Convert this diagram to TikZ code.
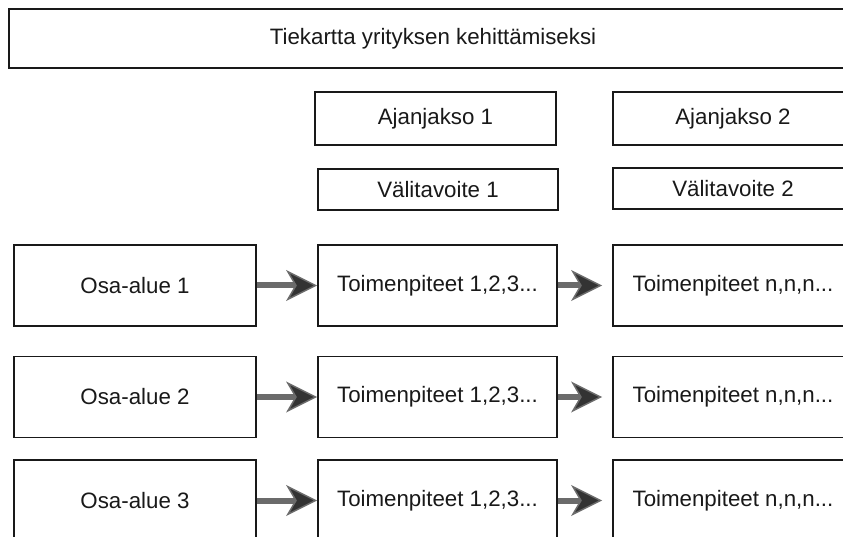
\documentclass[tikz,border=0pt]{standalone}
\usepackage{fontspec}
\setmainfont{Liberation Sans}
\usetikzlibrary{arrows.meta}

\tikzset{
  box/.style={draw=black!90, line width=1.8pt, fill=white, inner sep=0pt,
    font=\fontsize{22.3}{25}\selectfont, text=black!90},
  flow/.style={draw=black!58, line width=6pt,
    -{Stealth[length=31pt, width=31pt, inset=9pt, fill=black!80, line width=1.5pt]}},
}

\begin{document}
\begin{tikzpicture}[x=1pt, y=-1pt]
  \clip (0,0) rectangle (843,537);
  \fill[white] (0,0) rectangle (843,537);

  % title bar
  \node[box, minimum width=848pt, minimum height=59pt] (title) at (433,38.5) {Tiekartta yrityksen kehittämiseksi};

  % period headers
  \node[box, minimum width=241pt, minimum height=53pt] (aj1) at (435.5,118.5) {Ajanjakso 1};
  \node[box, minimum width=240pt, minimum height=53pt] (aj2) at (733,118.5) {Ajanjakso 2};
  \node[box, minimum width=240pt, minimum height=41pt] (va1) at (438,189.5) {Välitavoite 1};
  \node[box, minimum width=240pt, minimum height=41pt] (va2) at (733,188.5) {Välitavoite 2};

  % rows: area, actions in period 1, actions in period 2
  \foreach \i/\y in {1/285.5, 2/397, 3/500.5} {
    \node[box, minimum width=242pt, minimum height=81pt] (osa\i) at (135,\y) {Osa-alue \i};
    \node[box, minimum width=239pt, minimum height=81pt] (ta\i) at (437.5,\y) {Toimenpiteet 1,2,3...};
    \node[box, minimum width=240pt, minimum height=81pt] (tb\i) at (733,\y) {Toimenpiteet n,n,n...};
    \draw[flow] (osa\i.east) -- (ta\i.west);
    \draw[flow] (ta\i.east) -- ([xshift=-10pt]tb\i.west);
  }
\end{tikzpicture}
\end{document}
